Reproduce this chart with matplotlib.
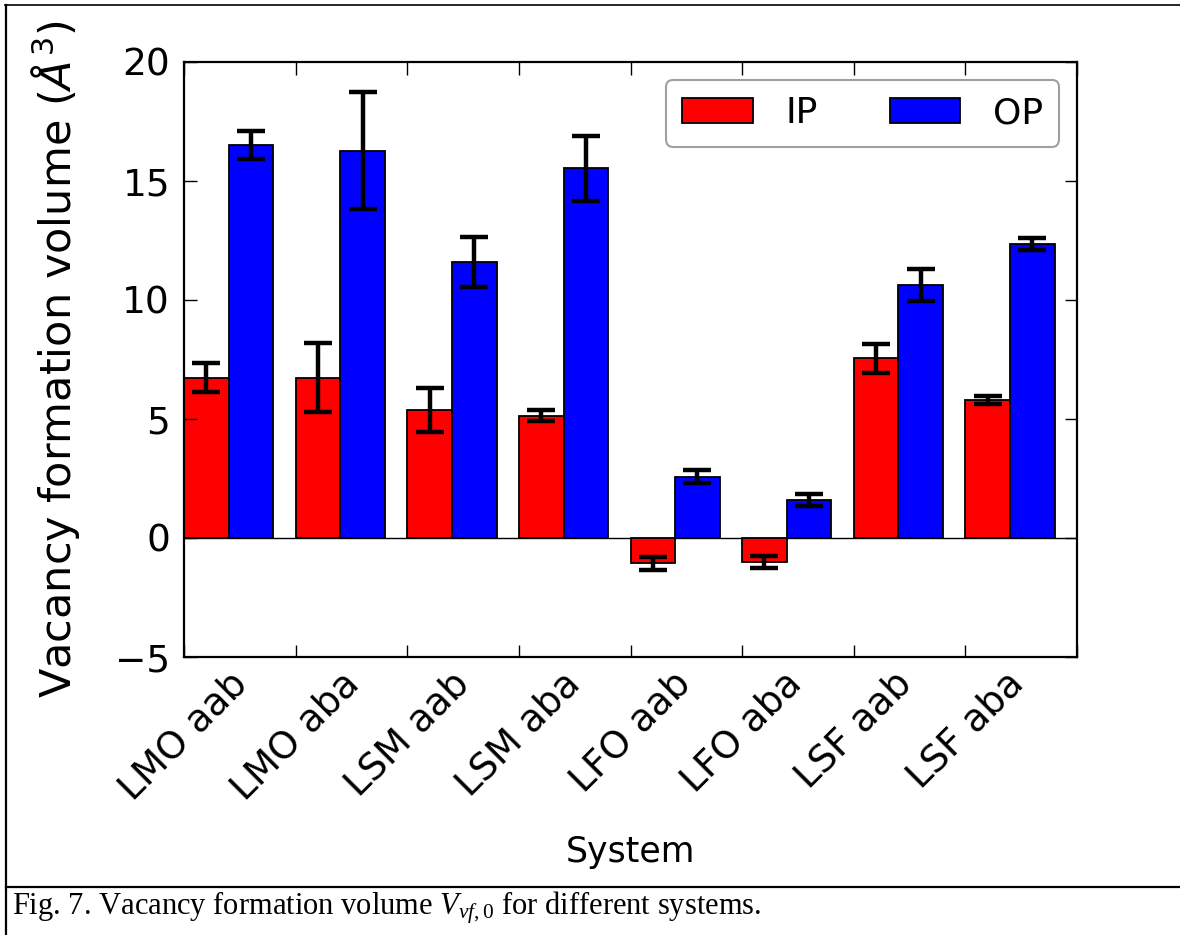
import numpy as np
import matplotlib
matplotlib.use("Agg")
import matplotlib.pyplot as plt
from matplotlib.lines import Line2D

categories = ["LMO aab", "LMO aba", "LSM aab", "LSM aba",
              "LFO aab", "LFO aba", "LSF aab", "LSF aba"]
ip_values = [6.74, 6.74, 5.38, 5.14, -1.07, -1.00, 7.55, 5.80]
ip_errors = [0.60, 1.46, 0.92, 0.24, 0.28, 0.24, 0.60, 0.17]
op_values = [16.51, 16.27, 11.58, 15.53, 2.57, 1.60, 10.63, 12.34]
op_errors = [0.60, 2.45, 1.05, 1.37, 0.28, 0.24, 0.68, 0.25]
yticks = [-5, 0, 5, 10, 15, 20]

plt.rcParams['mathtext.fontset'] = 'dejavusans'
fig = plt.figure(figsize=(11.8, 9.35), dpi=100)
ax = fig.add_axes([184/1180, 1-657/935, (1077-184)/1180, (657-62)/935])

x = np.arange(len(categories))
w = 0.4
err_kw = dict(ecolor='black', elinewidth=3.2, capsize=10, capthick=3.2)
ax.bar(x, ip_values, w, align='edge', color='#ff0000', edgecolor='black',
       linewidth=1.3, yerr=ip_errors, error_kw=err_kw, label='IP')
ax.bar(x + w, op_values, w, align='edge', color='#0000ff', edgecolor='black',
       linewidth=1.3, yerr=op_errors, error_kw=err_kw, label='OP')
ax.axhline(0, color='black', linewidth=1.0, zorder=0.5)

ax.set_xlim(0, 8)
ax.set_ylim(-5, 20)
ax.set_yticks(yticks)
ax.set_xticks(np.arange(9))
ax.set_xticklabels(categories + [""], rotation=45, ha='center', fontsize=27)
ax.tick_params(axis='both', direction='in', length=9, width=1.0,
               top=True, right=True, labelsize=27)
ax.tick_params(axis='y', pad=10)
ax.tick_params(axis='x', pad=6)
for s in ax.spines.values():
    s.set_linewidth(1.6)

ax.set_ylabel(r'Vacancy formation volume $(\AA^{3})$', fontsize=31, labelpad=24)
ax.set_xlabel('System', fontsize=25, labelpad=20)

leg = ax.legend(loc='upper right', ncol=2, fontsize=26, handlelength=1.95,
                handleheight=0.7, columnspacing=2.0, handletextpad=0.9,
                borderpad=0.45, borderaxespad=0.5, fancybox=True)
leg.get_frame().set_edgecolor('#888888')
leg.get_frame().set_linewidth(1.5)

# figure frame lines
fig.add_artist(Line2D([5/1180, 1.0], [1-5/935, 1-5/935], color='black', linewidth=1.2))
fig.add_artist(Line2D([6/1180, 6/1180], [0, 1-5/935], color='black', linewidth=1.6))
fig.add_artist(Line2D([6/1180, 1.0], [1-887/935, 1-887/935], color='black', linewidth=1.6))

plt.rcParams['mathtext.fontset'] = 'custom'
plt.rcParams['mathtext.it'] = 'Liberation Serif:italic'
plt.rcParams['mathtext.rm'] = 'Liberation Serif'
fig.text(12/1180, 1-908/935,
         r'Fig. 7. Vacancy formation volume $\mathit{V}_{\mathit{vf,0}}$ for different systems.',
         family='Liberation Serif', fontsize=22, va='center', ha='left')

fig.savefig('out.png', dpi=100)
